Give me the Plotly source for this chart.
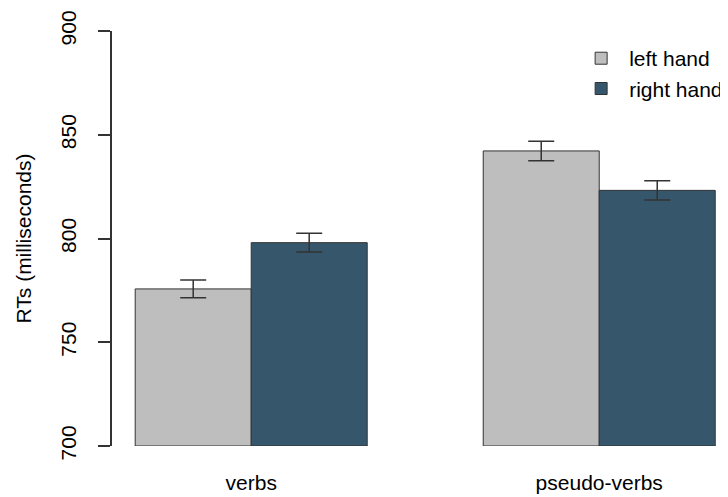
import plotly.graph_objects as go

categories = ["verbs", "pseudo-verbs"]
left_hand = [775.7, 842.2]
right_hand = [798.0, 823.2]
left_err = [4.3, 4.7]
right_err = [4.5, 4.6]
y_ticks = [700, 750, 800, 850, 900]

FONT = "Liberation Sans, Arial, sans-serif"
GREY = "#BEBEBE"
BLUE = "#36576B"
EDGE = "#333333"

fig = go.Figure()
for name, vals, errs, col in [("left hand", left_hand, left_err, GREY),
                              ("right hand", right_hand, right_err, BLUE)]:
    fig.add_trace(go.Bar(
        x=categories, y=[v - 700 for v in vals], base=700, name=name,
        marker=dict(color=col, line=dict(color=EDGE, width=1)),
        error_y=dict(type="data", array=errs, color=EDGE, thickness=1.5, width=13),
    ))

# page body has an 8px default margin; margins compensate for it
fig.update_layout(
    width=728, height=497,
    margin=dict(l=104, r=0, t=23, b=59),
    paper_bgcolor="white", plot_bgcolor="white",
    barmode="group", bargap=1/3, bargroupgap=0,
    font=dict(family=FONT, size=21, color="#000000"),
    showlegend=True,
    legend=dict(x=0.739, y=0.983, xanchor="left", yanchor="top",
                font=dict(size=21), bgcolor="rgba(0,0,0,0)",
                itemwidth=46, traceorder="normal"),
    xaxis=dict(range=[-0.4, 1.393], showline=False, ticks="", showgrid=False,
               zeroline=False, ticklabelstandoff=22, automargin=False,
               tickfont=dict(size=21)),
    yaxis=dict(range=[700, 900], tickvals=y_ticks, ticks="outside", ticklen=12,
               tickcolor=EDGE, tickwidth=1.5, showline=True, linecolor=EDGE,
               linewidth=1.5, showgrid=False, zeroline=False, tickangle=-90,
               ticklabelstandoff=14, tickfont=dict(size=21), automargin=False,
               title=dict(text="RTs (milliseconds)", standoff=19,
                          font=dict(size=21))),
)

fig.write_html("out.html")
